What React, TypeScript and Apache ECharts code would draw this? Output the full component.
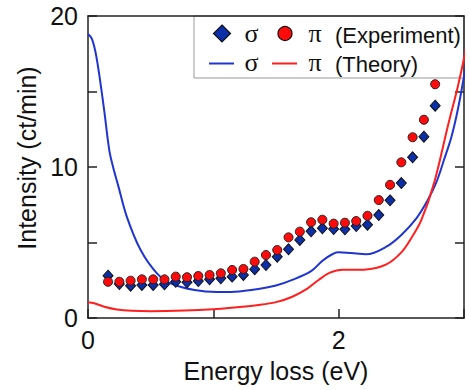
import React, { useEffect, useRef } from "react";
import * as echarts from "echarts";

const expEnergy = [0.16, 0.25, 0.34, 0.43, 0.52, 0.61, 0.70, 0.79, 0.88, 0.97, 1.06, 1.15, 1.24, 1.33, 1.42, 1.51, 1.60, 1.69, 1.78, 1.87, 1.96, 2.05, 2.14, 2.23, 2.32, 2.41, 2.50, 2.59, 2.68, 2.77];
const sigmaExp = [2.80, 2.25, 2.14, 2.19, 2.19, 2.23, 2.40, 2.36, 2.45, 2.56, 2.63, 2.74, 2.85, 3.23, 3.51, 4.06, 4.55, 5.17, 5.74, 5.94, 5.89, 5.87, 6.09, 6.18, 6.82, 7.79, 8.94, 10.64, 12.01, 14.06];
const piExp = [2.40, 2.40, 2.47, 2.56, 2.56, 2.56, 2.74, 2.70, 2.78, 2.85, 2.96, 3.18, 3.25, 3.73, 4.17, 4.50, 5.34, 5.72, 6.34, 6.51, 6.25, 6.31, 6.42, 6.77, 7.81, 8.82, 10.31, 11.97, 13.13, 15.48];

const sigmaTheoryX = [0, 0.03, 0.06, 0.09, 0.13, 0.17, 0.2, 0.24, 0.31, 0.42, 0.55, 0.66, 0.85, 1.03, 1.17, 1.36, 1.5, 1.63, 1.78, 1.88, 2.0, 2.1, 2.22, 2.38, 2.5, 2.62, 2.71, 2.78, 2.84, 2.9, 2.95, 3.0, 3.05];
const sigmaTheoryY = [18.8, 18.5, 17.6, 16.1, 13.7, 11.1, 10.0, 8.8, 6.7, 4.5, 2.96, 2.3, 1.85, 1.72, 1.74, 1.92, 2.15, 2.52, 3.1, 3.85, 4.36, 4.3, 4.22, 4.72, 5.5, 6.6, 7.8, 9.0, 10.46, 12.0, 13.77, 16.0, 18.5];
const piTheoryX = [0, 0.05, 0.13, 0.23, 0.35, 0.5, 0.77, 1.0, 1.17, 1.36, 1.5, 1.63, 1.75, 1.84, 1.93, 2.03, 2.12, 2.22, 2.38, 2.5, 2.58, 2.66, 2.76, 2.87, 2.95, 3.0, 3.05];
const piTheoryY = [1.04, 0.98, 0.75, 0.57, 0.48, 0.45, 0.49, 0.58, 0.7, 0.86, 1.05, 1.41, 1.95, 2.52, 3.0, 3.2, 3.2, 3.22, 3.55, 4.35, 5.3, 6.5, 8.9, 12.67, 15.3, 17.2, 19.5];

const xTickLabels = ["0", "2"];
const yTickLabels = ["0", "10", "20"];

const BLUE_LINE = "#1f35d0";
const RED_LINE = "#ff1f1f";
const BLUE_MARK = "#0b2fa8";
const RED_MARK = "#ff0a0a";
const FRAME = "#222";

export default function App() {
  const ref = useRef<HTMLDivElement>(null);
  useEffect(() => {
    if (!ref.current) return;
    const chart = echarts.init(ref.current, undefined, { renderer: "svg" });
    const sans = "Liberation Sans, Arial, sans-serif";
    const serif = "Liberation Serif, Times New Roman, serif";
    const axisCommon = {
      axisLine: { show: true, onZero: false, lineStyle: { color: FRAME, width: 1.5 } },
      axisTick: { show: true, inside: true, length: 9, lineStyle: { color: FRAME, width: 1.5 } },
      splitLine: { show: false },
    };
    chart.setOption({
      animation: false,
      backgroundColor: "#fff",
      grid: { left: 88, right: 6, top: 16, bottom: 72 },
      xAxis: [
        {
          type: "value",
          min: 0,
          max: 3,
          interval: 1,
          name: "Energy loss (eV)",
          nameLocation: "middle",
          nameGap: 40,
          nameTextStyle: { fontSize: 25, fontFamily: sans, color: "#111" },
          ...axisCommon,
          axisLabel: {
            margin: 9,
            fontSize: 25,
            fontFamily: sans,
            color: "#111",
            formatter: (v: number) => (xTickLabels.includes(String(v)) ? String(v) : ""),
          },
        },
        {
          type: "value",
          position: "top",
          min: 0,
          max: 3,
          interval: 1,
          ...axisCommon,
          axisTick: { show: false },
          axisLabel: { show: false },
        },
      ],
      yAxis: [
        {
          type: "value",
          min: 0,
          max: 20,
          interval: 5,
          name: "Intensity (ct/min)",
          nameLocation: "middle",
          nameGap: 48,
          nameTextStyle: { fontSize: 25, fontFamily: sans, color: "#111", padding: [0, 0, 0, 18] },
          ...axisCommon,
          axisLabel: {
            margin: 10,
            fontSize: 25,
            fontFamily: sans,
            color: "#111",
            formatter: (v: number) => (yTickLabels.includes(String(v)) ? String(v) : ""),
          },
        },
        {
          type: "value",
          position: "right",
          min: 0,
          max: 20,
          interval: 5,
          ...axisCommon,
          axisLabel: { show: false },
        },
      ],
      series: [
        {
          type: "line",
          data: sigmaTheoryX.map((x, i) => [x, sigmaTheoryY[i]]),
          smooth: 0.35,
          showSymbol: false,
          lineStyle: { color: BLUE_LINE, width: 2 },
          itemStyle: { color: BLUE_LINE },
          clip: true,
          z: 2,
        },
        {
          type: "line",
          data: piTheoryX.map((x, i) => [x, piTheoryY[i]]),
          smooth: 0.35,
          showSymbol: false,
          lineStyle: { color: RED_LINE, width: 2 },
          itemStyle: { color: RED_LINE },
          clip: true,
          z: 2,
        },
        {
          type: "scatter",
          data: expEnergy.map((x, i) => [x, sigmaExp[i]]),
          symbol: "diamond",
          symbolSize: [10, 11],
          itemStyle: { color: BLUE_MARK, borderColor: "#111", borderWidth: 1, opacity: 1 },
          z: 3,
        },
        {
          type: "scatter",
          data: expEnergy.map((x, i) => [x, piExp[i]]),
          symbol: "circle",
          symbolSize: 9,
          itemStyle: { color: RED_MARK, borderColor: "#222", borderWidth: 1, opacity: 1 },
          z: 4,
        },
      ],
      graphic: [
        {
          type: "group",
          z: 100,
          children: [
            {
              type: "rect",
              shape: { x: 194, y: 16, width: 270, height: 62 },
              style: { fill: "#fff", stroke: "#999", lineWidth: 1 },
            },
            {
              type: "polygon",
              shape: { points: [[222, 25], [230.5, 33.5], [222, 42], [213.5, 33.5]] },
              style: { fill: BLUE_MARK, stroke: "#111", lineWidth: 1.2 },
            },
            {
              type: "circle",
              shape: { cx: 285, cy: 33.5, r: 7 },
              style: { fill: RED_MARK, stroke: "#111", lineWidth: 1.2 },
            },
            {
              type: "text",
              style: { text: "σ", x: 251.5, y: 33, align: "center", verticalAlign: "middle", font: `26px ${serif}`, fill: "#111" },
            },
            {
              type: "text",
              style: { text: "π", x: 315, y: 33, align: "center", verticalAlign: "middle", font: `26px ${serif}`, fill: "#111" },
            },
            {
              type: "text",
              style: { text: "(Experiment)", x: 335, y: 35, align: "left", verticalAlign: "middle", font: `22px ${sans}`, fill: "#111" },
            },
            {
              type: "line",
              shape: { x1: 209, y1: 63.5, x2: 234, y2: 63.5 },
              style: { stroke: BLUE_LINE, lineWidth: 2 },
            },
            {
              type: "line",
              shape: { x1: 272, y1: 63.5, x2: 297, y2: 63.5 },
              style: { stroke: RED_LINE, lineWidth: 2 },
            },
            {
              type: "text",
              style: { text: "σ", x: 251.5, y: 62, align: "center", verticalAlign: "middle", font: `26px ${serif}`, fill: "#111" },
            },
            {
              type: "text",
              style: { text: "π", x: 315, y: 62, align: "center", verticalAlign: "middle", font: `26px ${serif}`, fill: "#111" },
            },
            {
              type: "text",
              style: { text: "(Theory)", x: 335, y: 64, align: "left", verticalAlign: "middle", font: `22px ${sans}`, fill: "#111" },
            },
          ],
        },
      ],
    });
    return () => chart.dispose();
  }, []);
  return <div ref={ref} style={{ position: "fixed", left: 0, top: 0, width: 470, height: 390 }} />;
}
